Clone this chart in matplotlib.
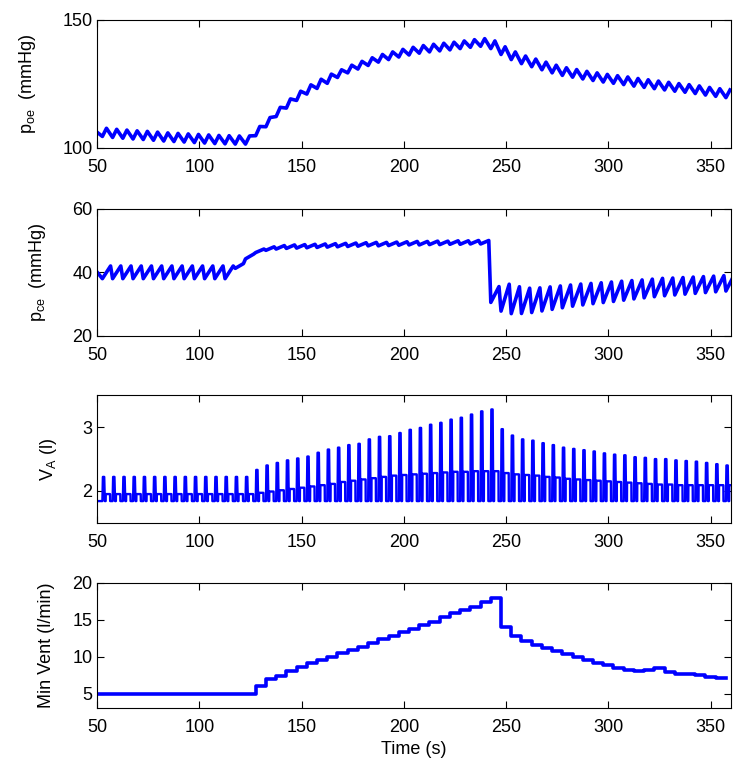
import numpy as np
import matplotlib
matplotlib.use('Agg')
import matplotlib.pyplot as plt

plt.rcParams['font.family'] = ['Liberation Sans', 'DejaVu Sans']
plt.rcParams['mathtext.fontset'] = 'custom'
plt.rcParams['mathtext.rm'] = 'Liberation Sans'
plt.rcParams['font.size'] = 13

t_start, t_end = 50.0, 360.0
first_breath = 52.5
breath_period = 5.0
n_breaths = 62

# p_oe (mmHg): mean level and peak-to-peak swing of each breath
poe_mean = [106.0, 105.6, 105.3, 105.0, 104.8, 104.5, 104.2, 104.0, 103.8, 103.6,
            103.4, 103.2, 103.1, 103.0, 103.0, 106.5, 110.0, 114.0, 117.3, 120.3,
            122.8, 125.0, 127.0, 129.0, 130.8, 132.3, 133.7, 135.0, 136.0, 137.0,
            137.8, 138.5, 139.0, 139.4, 139.8, 140.3, 140.8, 141.2, 140.3, 138.0,
            136.0, 134.4, 133.2, 132.0, 130.8, 129.8, 129.1, 128.4, 127.8, 127.2,
            126.7, 126.2, 125.6, 125.1, 124.6, 124.1, 123.6, 123.2, 122.7, 122.1,
            121.6, 121.1]
poe_swing = [3.2] * 15 + [3.6] * 8 + [3.0] * 39

# p_ce (mmHg)
pce_mean = [40.0] * 13 + [42.0, 45.0, 46.8, 47.5, 47.9, 48.1, 48.2, 48.3, 48.4,
            48.5, 48.6, 48.7, 48.8, 48.9, 48.9, 49.0, 49.1, 49.2, 49.2, 49.3,
            49.3, 49.4, 49.4, 49.5, 49.5, 33.0, 32.0, 31.2, 31.0, 31.2, 31.6,
            32.0, 32.4, 32.8, 33.1, 33.4, 33.7, 34.0, 34.3, 34.6, 34.9, 35.2,
            35.4, 35.6, 35.8, 36.0, 36.2, 36.4, 36.6]
pce_swing = [4.0] * 13 + [1.5, 1.5] + [1.1] * 23 + [5.0, 8.5, 8.5, 8.0, 7.8, 7.6,
             7.4, 7.2, 7.0, 6.8, 6.6, 6.5, 6.4, 6.2, 6.0, 5.9, 5.8, 5.6, 5.5,
             5.4, 5.3, 5.2, 5.1, 5.0]

# V_A (l): end-inspiratory peak, mid plateau, and floor of each breath
va_peak = [2.22] * 15 + [2.33, 2.40, 2.44, 2.48, 2.51, 2.54, 2.60, 2.65, 2.68, 2.72,
           2.74, 2.81, 2.85, 2.86, 2.91, 2.96, 2.99, 3.04, 3.07, 3.12, 3.15,
           3.20, 3.25, 3.28, 2.97, 2.87, 2.81, 2.79, 2.75, 2.72, 2.68, 2.66,
           2.64, 2.62, 2.59, 2.57, 2.56, 2.53, 2.52, 2.50, 2.50, 2.48, 2.47,
           2.46, 2.44, 2.42, 2.40]
va_mid = [1.95] * 15 + [1.97, 1.99, 2.01, 2.03, 2.05, 2.07, 2.09, 2.11, 2.14, 2.16,
          2.18, 2.20, 2.22, 2.24, 2.25, 2.26, 2.27, 2.28, 2.29, 2.30, 2.30,
          2.31, 2.31, 2.31, 2.28, 2.26, 2.25, 2.24, 2.22, 2.21, 2.19, 2.18,
          2.17, 2.16, 2.15, 2.14, 2.13, 2.12, 2.11, 2.10, 2.10, 2.09, 2.09,
          2.09, 2.09, 2.09, 2.09]
va_floor = 1.84

# minute ventilation (l/min), one level per breath
min_vent = [5.0] * 15 + [6.0, 6.95, 7.4, 8.08, 8.53, 9.07, 9.52, 9.98, 10.43, 10.88,
            11.33, 11.79, 12.33, 12.83, 13.28, 13.73, 14.28, 14.73, 15.32,
            15.86, 16.31, 16.76, 17.35, 17.9, 14.0, 12.8, 12.1, 11.6, 11.1,
            10.7, 10.3, 9.9, 9.5, 9.2, 8.85, 8.5, 8.25, 8.1, 8.2, 8.5, 7.95,
            7.65, 7.6, 7.45, 7.25, 7.1, 7.1]

onsets = first_breath + breath_period * np.arange(n_breaths)


def zigzag(mean, swing, crest):
    # trough at breath onset, crest part way into the breath
    xs, ys = [t_start], [mean[0]]
    for k in range(n_breaths):
        t0 = onsets[k]
        xs += [t0, t0 + crest * breath_period]
        ys += [mean[k] - swing[k] / 2, mean[k] + swing[k] / 2]
    return xs, ys


def alveolar_volume():
    xs, ys = [t_start], [va_floor]
    frac = [0.0, 0.05, 0.18, 0.24, 0.32, 0.33, 0.75, 0.76]
    for k in range(n_breaths):
        lev = [va_floor, va_peak[k], va_peak[k], va_floor, va_floor,
               va_mid[k], va_mid[k], va_floor]
        xs += [onsets[k] + f * breath_period for f in frac]
        ys += lev
    return xs, ys


fig = plt.figure(figsize=(7.5, 7.72), dpi=100)
boxes = [[0.1297, 0.8087, 0.845, 0.1654],
         [0.1297, 0.5652, 0.845, 0.1641],
         [0.1297, 0.3229, 0.845, 0.1649],
         [0.1297, 0.0825, 0.845, 0.1627]]
axes = [fig.add_axes(b) for b in boxes]
blue = '#0000ff'
lw = 2.6

x, y = zigzag(poe_mean, poe_swing, 0.4)
axes[0].plot(x, y, color=blue, lw=lw)
axes[0].set_ylim(100, 150)
axes[0].set_yticks([100, 150])
axes[0].set_ylabel(r'$\mathregular{p_{oe}}$  (mmHg)')

x, y = zigzag(pce_mean, pce_swing, 0.8)
axes[1].plot(x, y, color=blue, lw=lw)
axes[1].set_ylim(20, 60)
axes[1].set_yticks([20, 40, 60])
axes[1].set_ylabel(r'$\mathregular{p_{ce}}$  (mmHg)')

x, y = alveolar_volume()
axes[2].plot(x, y, color=blue, lw=1.7)
axes[2].set_ylim(1.5, 3.5)
axes[2].set_yticks([2, 3])
axes[2].set_ylabel(r'$\mathregular{V_A}$ (l)')

mv_t = [t_start] + list(onsets)
mv_v = [min_vent[0]] + list(min_vent)
axes[3].step(mv_t, mv_v, where='post', color=blue, lw=lw)
axes[3].set_ylim(3, 20)
axes[3].set_yticks([5, 10, 15, 20])
axes[3].set_ylabel('Min Vent (l/min)')
axes[3].set_xlabel('Time (s)', labelpad=3)

label_x = [-0.094, -0.078, -0.060, -0.067]
for ax, lx in zip(axes, label_x):
    ax.set_xlim(t_start, t_end)
    ax.set_xticks([50, 100, 150, 200, 250, 300, 350])
    ax.tick_params(direction='in', top=True, right=True, length=5, width=0.8)
    ax.tick_params(axis='x', pad=8)
    ax.yaxis.set_label_coords(lx, 0.5)
    for s in ax.spines.values():
        s.set_linewidth(0.8)

plt.savefig('out.png', dpi=100)
